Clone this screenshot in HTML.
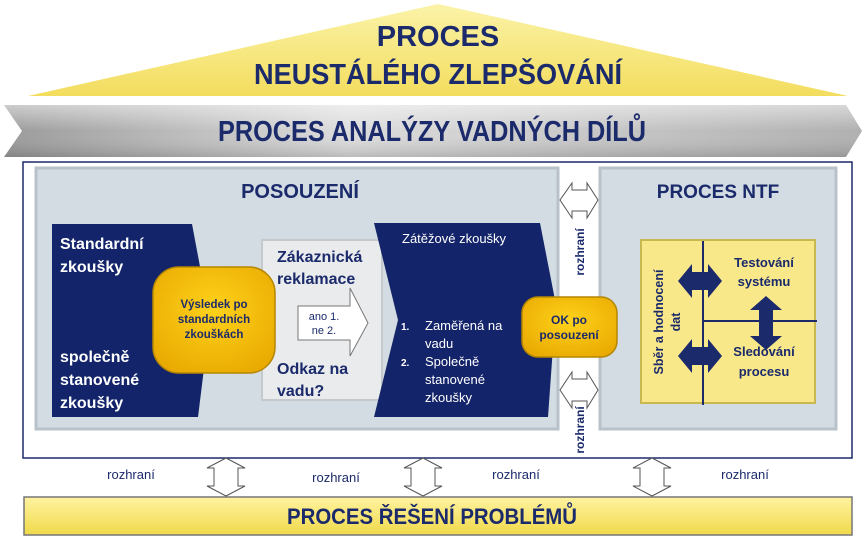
<!DOCTYPE html>
<html><head><meta charset="utf-8"><style>
html,body{margin:0;padding:0;background:#fff;}
svg{display:block;font-family:"Liberation Sans",sans-serif;}
.n{font-family:"Liberation Sans Narrow","Liberation Sans",sans-serif;font-weight:bold;fill:#1b2a6b;}
</style></head><body>
<svg width="864" height="545" viewBox="0 0 864 545" xmlns="http://www.w3.org/2000/svg">
<defs>
<linearGradient id="ty" x1="0" y1="0" x2="0" y2="1"><stop offset="0" stop-color="#fbf3a8"/><stop offset="1" stop-color="#f3dd5e"/></linearGradient>
<linearGradient id="gr" x1="0" y1="0" x2="1" y2="0"><stop offset="0" stop-color="#9a9a9a"/><stop offset="0.4" stop-color="#dcdcdc"/><stop offset="1" stop-color="#b0b0b0"/></linearGradient>
<linearGradient id="gr2" x1="0" y1="0" x2="0" y2="1"><stop offset="0" stop-color="#ffffff" stop-opacity=".5"/><stop offset=".5" stop-color="#fff" stop-opacity="0"/><stop offset="1" stop-color="#000" stop-opacity=".15"/></linearGradient>
<linearGradient id="yb" x1="0" y1="0" x2="0" y2="1"><stop offset="0" stop-color="#fff3a0"/><stop offset="1" stop-color="#f0d94a"/></linearGradient>
<radialGradient id="gold" cx=".5" cy=".4" r=".7"><stop offset="0" stop-color="#ffd21a"/><stop offset="1" stop-color="#e8a800"/></radialGradient>
</defs>

<polygon points="438,4 848,96 28,96" fill="url(#ty)"/>
<text class="n" x="438" y="46" font-size="29" text-anchor="middle">PROCES</text>
<text class="n" x="438" y="84" font-size="29" text-anchor="middle" textLength="368" lengthAdjust="spacingAndGlyphs">NEUSTÁLÉHO ZLEPŠOVÁNÍ</text>

<polygon points="4,105 846,105 862,131 846,157 4,157 22,131" fill="url(#gr)"/>
<polygon points="4,105 846,105 862,131 846,157 4,157 22,131" fill="url(#gr2)"/>
<text class="n" x="432" y="141" font-size="29" text-anchor="middle" textLength="428" lengthAdjust="spacingAndGlyphs">PROCES ANALÝZY VADNÝCH DÍLŮ</text>

<rect x="23" y="162" width="829" height="296" fill="#fff" stroke="#1b2a6b" stroke-width="1.5"/>

<rect x="36" y="168" width="522" height="261" fill="#d2dce2" stroke="#b8c2c8" stroke-width="3"/>
<rect x="600" y="168" width="236" height="261" fill="#d2dce2" stroke="#b8c2c8" stroke-width="3"/>
<text x="300" y="198" font-size="20" font-weight="bold" fill="#1b2a6b" text-anchor="middle">POSOUZENÍ</text>
<text x="718" y="198" font-size="19" font-weight="bold" fill="#1b2a6b" text-anchor="middle">PROCES NTF</text>

<polygon points="52,224 192,224 210,320 198,417 52,417" fill="#13246a"/>
<g fill="#fff" font-weight="bold" font-size="16">
<text x="60" y="249">Standardní</text><text x="60" y="272">zkoušky</text>
<text x="60" y="362">společně</text><text x="60" y="385">stanovené</text><text x="60" y="408">zkoušky</text>
</g>

<rect x="262" y="240" width="120" height="160" fill="#e9ebed" stroke="#c5c9cc" stroke-width="2"/>
<g fill="#1b2a6b" font-weight="bold" font-size="16">
<text x="277" y="262">Zákaznická</text><text x="277" y="284">reklamace</text>
<text x="277" y="374">Odkaz na</text><text x="277" y="396">vadu?</text>
</g>
<polygon points="298,306 350,306 350,288 368,323 350,356 350,340 298,340" fill="#fff" stroke="#777" stroke-width="1"/>
<text x="324" y="320" font-size="11" fill="#1b2a6b" text-anchor="middle">ano 1.</text>
<text x="324" y="334" font-size="11" fill="#1b2a6b" text-anchor="middle">ne 2.</text>

<rect x="153" y="267" width="122" height="106" rx="26" fill="url(#gold)" stroke="#b58600" stroke-width="1.5"/>
<g fill="#1b2a6b" font-weight="bold" font-size="11.5" text-anchor="middle">
<text x="214" y="308">Výsledek po</text><text x="214" y="323">standardních</text><text x="214" y="338">zkouškách</text>
</g>

<polygon points="374,223 540,223 556,305 548,417 374,417 398,320" fill="#13246a"/>
<g fill="#fff" font-size="13">
<text x="402" y="243">Zátěžové zkoušky</text>
<text x="401" y="330" font-size="10" font-weight="bold">1.</text>
<text x="425" y="330">Zaměřená na</text><text x="425" y="348">vadu</text>
<text x="401" y="366" font-size="10" font-weight="bold">2.</text>
<text x="425" y="366">Společně</text><text x="425" y="384">stanovené</text><text x="425" y="402">zkoušky</text>
</g>

<rect x="522" y="297" width="95" height="60" rx="16" fill="url(#gold)" stroke="#b58600" stroke-width="1.5"/>
<text x="569" y="324" font-size="12" font-weight="bold" fill="#1b2a6b" text-anchor="middle">OK po</text>
<text x="569" y="339" font-size="12" font-weight="bold" fill="#1b2a6b" text-anchor="middle">posouzení</text>

<polygon points="560,200 572,183 572,190 587,190 587,183 598,200 587,218 587,211 572,211 572,218" fill="#fff" stroke="#555" stroke-width="1"/>
<polygon points="560,390 572,372 572,379 587,379 587,372 598,390 587,408 587,401 572,401 572,408" fill="#fff" stroke="#555" stroke-width="1"/>
<text transform="translate(584,252) rotate(-90)" font-size="12" font-weight="bold" fill="#1b2a6b" text-anchor="middle">rozhraní</text>
<text transform="translate(584,430) rotate(-90)" font-size="12" font-weight="bold" fill="#1b2a6b" text-anchor="middle">rozhraní</text>

<rect x="641" y="240" width="174" height="163" fill="#f8e88a" stroke="#c8b850" stroke-width="2"/>
<line x1="703" y1="241" x2="703" y2="405" stroke="#1b2a6b" stroke-width="2"/>
<line x1="703" y1="321" x2="817" y2="321" stroke="#1b2a6b" stroke-width="2"/>
<text transform="translate(663,322) rotate(-90)" font-size="12.5" font-weight="bold" fill="#1b2a6b" text-anchor="middle">Sběr a hodnocení</text>
<text transform="translate(680,322) rotate(-90)" font-size="12.5" font-weight="bold" fill="#1b2a6b" text-anchor="middle">dat</text>
<g fill="#1b2a6b" font-weight="bold" font-size="13" text-anchor="middle">
<text x="764" y="267">Testování</text><text x="764" y="286">systému</text>
<text x="764" y="356">Sledování</text><text x="764" y="376">procesu</text>
</g>
<g fill="#1b2a6b">
<polygon points="678,281 692,264 692,272 708,272 708,264 722,281 708,298 708,290 692,290 692,298"/>
<polygon points="678,356 692,339 692,347 708,347 708,339 722,356 708,373 708,365 692,365 692,373"/>
<polygon points="766,296 782,310 773,310 773,336 782,336 766,350 750,336 759,336 759,310 750,310"/>
</g>

<g fill="#1b2a6b" font-size="13" text-anchor="middle">
<text x="131" y="479">rozhraní</text><text x="336" y="482">rozhraní</text><text x="516" y="479">rozhraní</text><text x="745" y="479">rozhraní</text>
</g>
<g fill="#fff" stroke="#555" stroke-width="1">
<polygon points="226,458 245,468 238,468 238,486 245,486 226,496 207,486 214,486 214,468 207,468"/>
<polygon points="423,458 442,468 435,468 435,486 442,486 423,496 404,486 411,486 411,468 404,468"/>
<polygon points="652,458 671,468 664,468 664,486 671,486 652,496 633,486 640,486 640,468 633,468"/>
</g>

<rect x="24" y="497" width="828" height="38" fill="url(#yb)" stroke="#777" stroke-width="1.5"/>
<text class="n" x="432" y="524" font-size="22" text-anchor="middle" textLength="290" lengthAdjust="spacingAndGlyphs">PROCES ŘEŠENÍ PROBLÉMŮ</text>
</svg>
</body></html>
